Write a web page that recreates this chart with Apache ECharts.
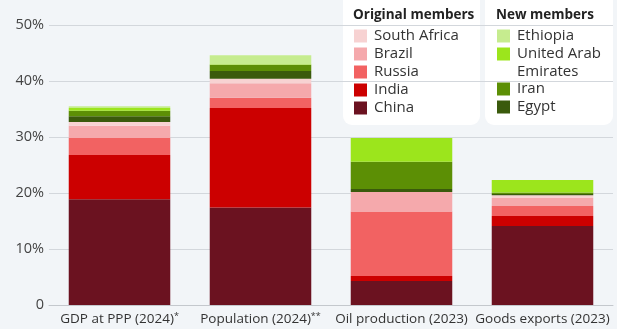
<!DOCTYPE html>
<html>
<head>
<meta charset="utf-8">
<style>
  html, body { margin: 0; padding: 0; background: #f2f5f8; }
  #chart { width: 617px; height: 329px; }
</style>
<script src="https://cdn.jsdelivr.net/npm/echarts@6/dist/echarts.min.js"></script>
</head>
<body>
<div id="chart"></div>
<script>
// Share of world total held by BRICS members, in percent
const categories = ['GDP at PPP (2024)', 'Population (2024)', 'Oil production (2023)', 'Goods exports (2023)'];
const footnotes = ['*', '**', '', ''];
const yTicks = [0, 10, 20, 30, 40, 50];

// Original members
const china       = [18.9, 17.4,  4.3, 14.1];
const india       = [ 7.9, 17.8,  0.9,  1.8];
const russia      = [ 3.0,  1.8, 11.5,  1.8];
const brazil      = [ 2.2,  2.6,  3.5,  1.4];
const southAfrica = [ 0.7,  0.8,  0.0,  0.5];
// New members
const egypt       = [ 1.0,  1.4,  0.5,  0.2];
const iran        = [ 1.0,  1.1,  4.9,  0.3];
const uae         = [ 0.5,  0.1,  4.2,  2.2];
const ethiopia    = [ 0.3,  1.6,  0.0,  0.0];

const seriesDefs = [
  { name: 'China',                data: china,       color: '#6b1220' },
  { name: 'India',                data: india,       color: '#cc0000' },
  { name: 'Russia',               data: russia,      color: '#f26262' },
  { name: 'Brazil',               data: brazil,      color: '#f5a9ac' },
  { name: 'South Africa',         data: southAfrica, color: '#f7d2d2' },
  { name: 'Egypt',                data: egypt,       color: '#3a5a0c' },
  { name: 'Iran',                 data: iran,        color: '#5c8f05' },
  { name: 'United Arab Emirates', data: uae,         color: '#9ce51c' },
  { name: 'Ethiopia',             data: ethiopia,    color: '#c6ec8f' }
];

const FONT = '"Open Sans", "Noto Sans", sans-serif';
const legendText = { fontFamily: FONT, fontSize: 15, color: '#333', lineHeight: 18, padding: [0, 0, 0, 2] };
const titleText = { fontFamily: FONT, fontSize: 13.5, fontWeight: 'bold', color: '#222', lineHeight: 18 };

// Shared look of every legend block
function legendBlock(left, top, names, extra) {
  return Object.assign({
    orient: 'vertical', left: left, top: top, padding: 0, itemGap: 0,
    itemWidth: 13, itemHeight: 13, icon: 'rect', selectedMode: false,
    textStyle: legendText,
    data: names
  }, extra || {});
}

const chart = echarts.init(document.getElementById('chart'), null, { renderer: 'canvas' });

chart.setOption({
  backgroundColor: '#f2f5f8',
  animation: false,
  textStyle: { fontFamily: FONT },
  grid: { left: 49, right: 4, top: 25, bottom: 24, containLabel: false },
  graphic: [
    { type: 'rect', z: 0, shape: { x: 343, y: -10, width: 137, height: 135, r: 9 }, style: { fill: '#ffffff' } },
    { type: 'rect', z: 0, shape: { x: 485, y: -10, width: 128, height: 135, r: 9 }, style: { fill: '#ffffff' } }
  ],
  title: [
    { text: 'Original members', left: 353, top: 6, padding: 0, textStyle: titleText },
    { text: 'New members', left: 496, top: 6, padding: 0, textStyle: titleText }
  ],
  legend: [
    legendBlock(354, 27, ['South Africa', 'Brazil', 'Russia', 'India', 'China']),
    legendBlock(497, 27, ['Ethiopia']),
    // Two-line name: an empty leading line keeps the swatch beside "United Arab"
    legendBlock(497, 27, ['United Arab Emirates'], {
      formatter: () => '\nUnited Arab\nEmirates'
    }),
    legendBlock(497, 80, ['Iran', 'Egypt'])
  ],
  xAxis: {
    type: 'category',
    data: categories,
    axisTick: { show: false },
    axisLine: { lineStyle: { color: '#c4c8cd', width: 1 } },
    axisLabel: {
      interval: 0,
      hideOverlap: false,
      margin: 7,
      color: '#333',
      fontFamily: FONT,
      fontSize: 13.5,
      formatter: (v, i) => footnotes[i] ? v + '{sup|' + footnotes[i] + '}' : v,
      rich: { sup: { fontSize: 9, verticalAlign: 'top', padding: [0, 0, 6, 0], color: '#333', fontFamily: FONT } }
    }
  },
  yAxis: {
    type: 'value',
    min: yTicks[0],
    max: yTicks[yTicks.length - 1],
    interval: 10,
    axisLine: { show: false },
    axisTick: { show: false },
    splitLine: { lineStyle: { color: '#d3d7dc', width: 1 } },
    axisLabel: {
      margin: 5,
      color: '#444',
      fontFamily: FONT,
      fontSize: 14.5,
      formatter: v => v === 0 ? '0' : v + '%'
    }
  },
  series: seriesDefs.map(s => ({
    name: s.name,
    type: 'bar',
    stack: 'brics',
    data: s.data,
    barCategoryGap: '28%',
    itemStyle: { color: s.color },
    emphasis: { disabled: true }
  }))
});
</script>
</body>
</html>
